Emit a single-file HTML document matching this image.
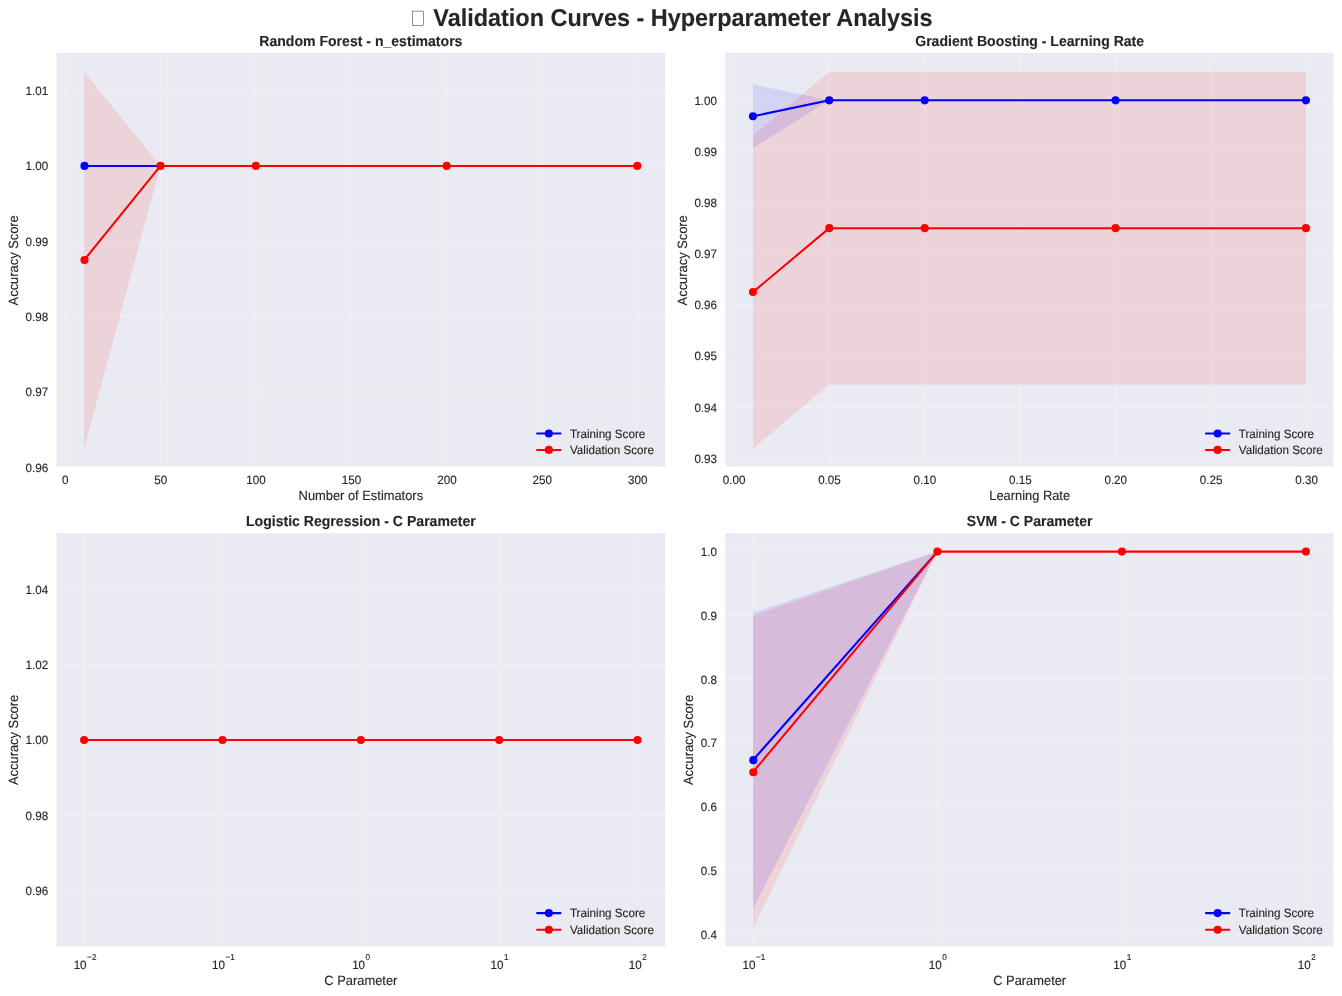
<!DOCTYPE html>
<html lang="en"><head><meta charset="utf-8"><title>Validation Curves - Hyperparameter Analysis</title>
<style>html,body{margin:0;padding:0;background:#fff;}body{width:1342px;height:996px;overflow:hidden;}svg{display:block;}text{font-family:"Liberation Sans", sans-serif;fill:#262626;text-rendering:geometricPrecision;stroke:#262626;stroke-width:0.12px;stroke-linejoin:round;}.tk{font-size:11.66px;}.lb{font-size:12.89px;}.tt{font-size:14.07px;font-weight:bold;}.st{font-size:23.44px;font-weight:bold;}.sup{font-size:8.21px;}.g{stroke:#fff;stroke-opacity:0.3;stroke-width:1.17;fill:none;}.ln{fill:none;stroke-width:2.05;stroke-linejoin:round;stroke-linecap:round;}</style></head><body>
<svg width="1342" height="996" viewBox="0 0 1342 996" role="img" aria-label="Validation Curves - Hyperparameter Analysis">
<rect width="1342" height="996" fill="#fff"/>
<rect x="412.4" y="11.1" width="11.1" height="14.2" fill="none" stroke="#262626" stroke-width="0.5"/>
<text class="st" transform="translate(433.3 26.3) scale(1 1.04)">Validation Curves - Hyperparameter Analysis</text>
<g>
<clipPath id="c0"><rect x="56.6" y="52.9" width="608.6" height="413.7"/></clipPath>
<rect x="56.6" y="52.9" width="608.6" height="413.7" fill="#eaeaf2"/>
<g clip-path="url(#c0)">
<path class="g" d="M65.05 52.86V467.34M160.46 52.86V467.34M255.88 52.86V467.34M351.3 52.86V467.34M446.72 52.86V467.34M542.13 52.86V467.34M637.55 52.86V467.34M56.46 467.34H665.22M56.46 391.98H665.22M56.46 316.62H665.22M56.46 241.26H665.22M56.46 165.9H665.22M56.46 90.54H665.22"/>
<polygon points="84.13,165.9 84.13,165.9 160.46,165.9 255.88,165.9 446.72,165.9 637.55,165.9 637.55,165.9 637.55,165.9 446.72,165.9 255.88,165.9 160.46,165.9 84.13,165.9" fill="#0000ff" fill-opacity="0.1"/>
<polygon points="84.13,71.7 84.13,448.5 160.46,165.9 255.88,165.9 446.72,165.9 637.55,165.9 637.55,165.9 637.55,165.9 446.72,165.9 255.88,165.9 160.46,165.9 84.13,71.7" fill="#ff0000" fill-opacity="0.1"/>
<polyline class="ln" stroke="#0000ff" points="84.13,165.9 160.46,165.9"/>
<circle cx="84.5" cy="165.9" r="4.05" fill="#0000ff"/>
<polyline class="ln" stroke="#ff0000" points="84.13,260.1 160.46,165.9 255.88,165.9 446.72,165.9 637.55,165.9"/>
<circle cx="84.5" cy="260.1" r="4.05" fill="#ff0000"/>
<circle cx="160.46" cy="165.9" r="4.05" fill="#ff0000"/>
<circle cx="255.88" cy="165.9" r="4.05" fill="#ff0000"/>
<circle cx="446.72" cy="165.9" r="4.05" fill="#ff0000"/>
<circle cx="637.3" cy="165.9" r="4.05" fill="#ff0000"/>
</g>
<line class="ln" x1="537.1" y1="433.55" x2="560.55" y2="433.55" stroke="#0000ff"/>
<circle cx="548.83" cy="433.55" r="4.05" fill="#0000ff"/>
<text class="tk" transform="translate(569.92 437.6) scale(1 1.04)">Training Score</text>
<line class="ln" x1="537.1" y1="449.9" x2="560.55" y2="449.9" stroke="#ff0000"/>
<circle cx="548.83" cy="449.9" r="4.05" fill="#ff0000"/>
<text class="tk" transform="translate(569.92 453.8) scale(1 1.04)">Validation Score</text>
<text class="tk" transform="translate(65.25 483.8) scale(1 1.04)" text-anchor="middle">0</text>
<text class="tk" transform="translate(160.66 483.8) scale(1 1.04)" text-anchor="middle">50</text>
<text class="tk" transform="translate(256.08 483.8) scale(1 1.04)" text-anchor="middle">100</text>
<text class="tk" transform="translate(351.5 483.8) scale(1 1.04)" text-anchor="middle">150</text>
<text class="tk" transform="translate(446.92 483.8) scale(1 1.04)" text-anchor="middle">200</text>
<text class="tk" transform="translate(542.33 483.8) scale(1 1.04)" text-anchor="middle">250</text>
<text class="tk" transform="translate(637.75 483.8) scale(1 1.04)" text-anchor="middle">300</text>
<text class="tk" transform="translate(48.25 471.84) scale(1 1.04)" text-anchor="end">0.96</text>
<text class="tk" transform="translate(48.25 396.48) scale(1 1.04)" text-anchor="end">0.97</text>
<text class="tk" transform="translate(48.25 321.12) scale(1 1.04)" text-anchor="end">0.98</text>
<text class="tk" transform="translate(48.25 245.76) scale(1 1.04)" text-anchor="end">0.99</text>
<text class="tk" transform="translate(48.25 170.4) scale(1 1.04)" text-anchor="end">1.00</text>
<text class="tk" transform="translate(48.25 95.04) scale(1 1.04)" text-anchor="end">1.01</text>
<text class="tt" transform="translate(360.84 45.58) scale(1 1.04)" text-anchor="middle">Random Forest - n_estimators</text>
<text class="lb" transform="translate(360.84 499.9) scale(1 1.04)" text-anchor="middle">Number of Estimators</text>
<text class="lb" transform="translate(18.1 260.3) rotate(-90) scale(1 1.04)" text-anchor="middle">Accuracy Score</text>
</g>
<g>
<clipPath id="c1"><rect x="725.28" y="52.9" width="608.02" height="413.7"/></clipPath>
<rect x="725.28" y="52.9" width="608.02" height="413.7" fill="#eaeaf2"/>
<g clip-path="url(#c1)">
<path class="g" d="M733.87 52.86V467.34M829.28 52.86V467.34M924.7 52.86V467.34M1020.12 52.86V467.34M1115.54 52.86V467.34M1210.95 52.86V467.34M1306.37 52.86V467.34M725.28 458.21H1334.04M725.28 407.09H1334.04M725.28 355.96H1334.04M725.28 304.84H1334.04M725.28 253.71H1334.04M725.28 202.58H1334.04M725.28 151.46H1334.04M725.28 100.33H1334.04"/>
<polygon points="752.95,84.35 752.95,148.26 829.28,100.33 924.7,100.33 1115.54,100.33 1306.37,100.33 1306.37,100.33 1306.37,100.33 1115.54,100.33 924.7,100.33 829.28,100.33 752.95,84.35" fill="#0000ff" fill-opacity="0.1"/>
<polygon points="752.95,135.61 752.95,448.5 829.28,384.59 924.7,384.59 1115.54,384.59 1306.37,384.59 1306.37,71.7 1306.37,71.7 1115.54,71.7 924.7,71.7 829.28,71.7 752.95,135.61" fill="#ff0000" fill-opacity="0.1"/>
<polyline class="ln" stroke="#0000ff" points="752.95,116.31 829.28,100.33 924.7,100.33 1115.54,100.33 1306.37,100.33"/>
<circle cx="752.95" cy="116.31" r="4.05" fill="#0000ff"/>
<circle cx="829.28" cy="100.33" r="4.05" fill="#0000ff"/>
<circle cx="924.7" cy="100.33" r="4.05" fill="#0000ff"/>
<circle cx="1115.54" cy="100.33" r="4.05" fill="#0000ff"/>
<circle cx="1305.94" cy="100.33" r="4.05" fill="#0000ff"/>
<polyline class="ln" stroke="#ff0000" points="752.95,292.05 829.28,228.15 924.7,228.15 1115.54,228.15 1306.37,228.15"/>
<circle cx="752.95" cy="292.05" r="4.05" fill="#ff0000"/>
<circle cx="829.28" cy="228.15" r="4.05" fill="#ff0000"/>
<circle cx="924.7" cy="228.15" r="4.05" fill="#ff0000"/>
<circle cx="1115.54" cy="228.15" r="4.05" fill="#ff0000"/>
<circle cx="1305.94" cy="228.15" r="4.05" fill="#ff0000"/>
</g>
<line class="ln" x1="1205.92" y1="433.55" x2="1229.36" y2="433.55" stroke="#0000ff"/>
<circle cx="1217.64" cy="433.55" r="4.05" fill="#0000ff"/>
<text class="tk" transform="translate(1238.74 437.6) scale(1 1.04)">Training Score</text>
<line class="ln" x1="1205.92" y1="449.9" x2="1229.36" y2="449.9" stroke="#ff0000"/>
<circle cx="1217.64" cy="449.9" r="4.05" fill="#ff0000"/>
<text class="tk" transform="translate(1238.74 453.8) scale(1 1.04)">Validation Score</text>
<text class="tk" transform="translate(734.07 483.8) scale(1 1.04)" text-anchor="middle">0.00</text>
<text class="tk" transform="translate(829.48 483.8) scale(1 1.04)" text-anchor="middle">0.05</text>
<text class="tk" transform="translate(924.9 483.8) scale(1 1.04)" text-anchor="middle">0.10</text>
<text class="tk" transform="translate(1020.32 483.8) scale(1 1.04)" text-anchor="middle">0.15</text>
<text class="tk" transform="translate(1115.74 483.8) scale(1 1.04)" text-anchor="middle">0.20</text>
<text class="tk" transform="translate(1211.15 483.8) scale(1 1.04)" text-anchor="middle">0.25</text>
<text class="tk" transform="translate(1306.57 483.8) scale(1 1.04)" text-anchor="middle">0.30</text>
<text class="tk" transform="translate(717.07 462.71) scale(1 1.04)" text-anchor="end">0.93</text>
<text class="tk" transform="translate(717.07 411.59) scale(1 1.04)" text-anchor="end">0.94</text>
<text class="tk" transform="translate(717.07 360.46) scale(1 1.04)" text-anchor="end">0.95</text>
<text class="tk" transform="translate(717.07 309.34) scale(1 1.04)" text-anchor="end">0.96</text>
<text class="tk" transform="translate(717.07 258.21) scale(1 1.04)" text-anchor="end">0.97</text>
<text class="tk" transform="translate(717.07 207.08) scale(1 1.04)" text-anchor="end">0.98</text>
<text class="tk" transform="translate(717.07 155.96) scale(1 1.04)" text-anchor="end">0.99</text>
<text class="tk" transform="translate(717.07 104.83) scale(1 1.04)" text-anchor="end">1.00</text>
<text class="tt" transform="translate(1029.66 45.58) scale(1 1.04)" text-anchor="middle">Gradient Boosting - Learning Rate</text>
<text class="lb" transform="translate(1029.66 499.9) scale(1 1.04)" text-anchor="middle">Learning Rate</text>
<text class="lb" transform="translate(686.9 260.3) rotate(-90) scale(1 1.04)" text-anchor="middle">Accuracy Score</text>
</g>
<g>
<clipPath id="c2"><rect x="56.6" y="533.1" width="608.6" height="413.3"/></clipPath>
<rect x="56.6" y="533.1" width="608.6" height="413.3" fill="#eaeaf2"/>
<g clip-path="url(#c2)">
<path class="g" d="M84.13 532.76V947.24M222.49 532.76V947.24M360.84 532.76V947.24M499.19 532.76V947.24M637.55 532.76V947.24M56.46 890.72H665.22M56.46 815.36H665.22M56.46 740H665.22M56.46 664.64H665.22M56.46 589.28H665.22"/>
<polygon points="84.13,740 84.13,740 222.49,740 360.84,740 499.19,740 637.55,740 637.55,740 637.55,740 499.19,740 360.84,740 222.49,740 84.13,740" fill="#0000ff" fill-opacity="0.1"/>
<polygon points="84.13,740 84.13,740 222.49,740 360.84,740 499.19,740 637.55,740 637.55,740 637.55,740 499.19,740 360.84,740 222.49,740 84.13,740" fill="#ff0000" fill-opacity="0.1"/>
<polyline class="ln" stroke="#ff0000" points="84.13,740 222.49,740 360.84,740 499.19,740 637.55,740"/>
<circle cx="84.13" cy="740" r="4.05" fill="#ff0000"/>
<circle cx="222.49" cy="740" r="4.05" fill="#ff0000"/>
<circle cx="360.84" cy="740" r="4.05" fill="#ff0000"/>
<circle cx="499.19" cy="740" r="4.05" fill="#ff0000"/>
<circle cx="637.55" cy="740" r="4.05" fill="#ff0000"/>
</g>
<line class="ln" x1="537.1" y1="913.1" x2="560.55" y2="913.1" stroke="#0000ff"/>
<circle cx="548.83" cy="913.1" r="4.05" fill="#0000ff"/>
<text class="tk" transform="translate(569.92 917.1) scale(1 1.04)">Training Score</text>
<line class="ln" x1="537.1" y1="929.8" x2="560.55" y2="929.8" stroke="#ff0000"/>
<circle cx="548.83" cy="929.8" r="4.05" fill="#ff0000"/>
<text class="tk" transform="translate(569.92 934) scale(1 1.04)">Validation Score</text>
<text class="tk" transform="translate(73.63 968.65) scale(1 1.04)">10<tspan class="sup" dx="0.5" dy="-8.37">−2</tspan></text>
<text class="tk" transform="translate(211.99 968.65) scale(1 1.04)">10<tspan class="sup" dx="0.5" dy="-8.37">−1</tspan></text>
<text class="tk" transform="translate(352.14 968.65) scale(1 1.04)">10<tspan class="sup" dx="0.5" dy="-8.37">0</tspan></text>
<text class="tk" transform="translate(490.49 968.65) scale(1 1.04)">10<tspan class="sup" dx="0.5" dy="-8.37">1</tspan></text>
<text class="tk" transform="translate(628.85 968.65) scale(1 1.04)">10<tspan class="sup" dx="0.5" dy="-8.37">2</tspan></text>
<text class="tk" transform="translate(48.25 895.22) scale(1 1.04)" text-anchor="end">0.96</text>
<text class="tk" transform="translate(48.25 819.86) scale(1 1.04)" text-anchor="end">0.98</text>
<text class="tk" transform="translate(48.25 743.8) scale(1 1.04)" text-anchor="end">1.00</text>
<text class="tk" transform="translate(48.25 669.14) scale(1 1.04)" text-anchor="end">1.02</text>
<text class="tk" transform="translate(48.25 593.78) scale(1 1.04)" text-anchor="end">1.04</text>
<text class="tt" transform="translate(360.84 526.1) scale(1 1.04)" text-anchor="middle">Logistic Regression - C Parameter</text>
<text class="lb" transform="translate(360.84 985.01) scale(1 1.04)" text-anchor="middle">C Parameter</text>
<text class="lb" transform="translate(18.1 739.9) rotate(-90) scale(1 1.04)" text-anchor="middle">Accuracy Score</text>
</g>
<g>
<clipPath id="c3"><rect x="725.28" y="533.1" width="608.02" height="413.3"/></clipPath>
<rect x="725.28" y="533.1" width="608.02" height="413.3" fill="#eaeaf2"/>
<g clip-path="url(#c3)">
<path class="g" d="M752.95 532.76V947.24M937.42 532.76V947.24M1121.9 532.76V947.24M1306.37 532.76V947.24M725.28 934.14H1334.04M725.28 870.38H1334.04M725.28 806.63H1334.04M725.28 742.87H1334.04M725.28 679.11H1334.04M725.28 615.36H1334.04M725.28 551.6H1334.04"/>
<polygon points="752.95,612.81 752.95,908.64 937.42,551.6 1121.9,551.6 1306.37,551.6 1306.37,551.6 1306.37,551.6 1121.9,551.6 937.42,551.6 752.95,612.81" fill="#0000ff" fill-opacity="0.1"/>
<polygon points="752.95,615.99 752.95,928.4 937.42,551.6 1121.9,551.6 1306.37,551.6 1306.37,551.6 1306.37,551.6 1121.9,551.6 937.42,551.6 752.95,615.99" fill="#ff0000" fill-opacity="0.1"/>
<polyline class="ln" stroke="#0000ff" points="752.95,760.15 937.42,551.6"/>
<circle cx="753.31" cy="760.15" r="4.05" fill="#0000ff"/>
<polyline class="ln" stroke="#ff0000" points="752.95,772.2 937.42,551.6 1121.9,551.6 1306.37,551.6"/>
<circle cx="753.31" cy="772.2" r="4.05" fill="#ff0000"/>
<circle cx="937.42" cy="551.6" r="4.05" fill="#ff0000"/>
<circle cx="1121.9" cy="551.6" r="4.05" fill="#ff0000"/>
<circle cx="1305.92" cy="551.6" r="4.05" fill="#ff0000"/>
</g>
<line class="ln" x1="1205.92" y1="913.1" x2="1229.36" y2="913.1" stroke="#0000ff"/>
<circle cx="1217.64" cy="913.1" r="4.05" fill="#0000ff"/>
<text class="tk" transform="translate(1238.74 917.1) scale(1 1.04)">Training Score</text>
<line class="ln" x1="1205.92" y1="929.8" x2="1229.36" y2="929.8" stroke="#ff0000"/>
<circle cx="1217.64" cy="929.8" r="4.05" fill="#ff0000"/>
<text class="tk" transform="translate(1238.74 934) scale(1 1.04)">Validation Score</text>
<text class="tk" transform="translate(742.45 968.65) scale(1 1.04)">10<tspan class="sup" dx="0.5" dy="-8.37">−1</tspan></text>
<text class="tk" transform="translate(928.72 968.65) scale(1 1.04)">10<tspan class="sup" dx="0.5" dy="-8.37">0</tspan></text>
<text class="tk" transform="translate(1113.2 968.65) scale(1 1.04)">10<tspan class="sup" dx="0.5" dy="-8.37">1</tspan></text>
<text class="tk" transform="translate(1297.67 968.65) scale(1 1.04)">10<tspan class="sup" dx="0.5" dy="-8.37">2</tspan></text>
<text class="tk" transform="translate(717.07 938.74) scale(1 1.04)" text-anchor="end">0.4</text>
<text class="tk" transform="translate(717.07 874.98) scale(1 1.04)" text-anchor="end">0.5</text>
<text class="tk" transform="translate(717.07 811.23) scale(1 1.04)" text-anchor="end">0.6</text>
<text class="tk" transform="translate(717.07 747.47) scale(1 1.04)" text-anchor="end">0.7</text>
<text class="tk" transform="translate(717.07 683.71) scale(1 1.04)" text-anchor="end">0.8</text>
<text class="tk" transform="translate(717.07 619.96) scale(1 1.04)" text-anchor="end">0.9</text>
<text class="tk" transform="translate(717.07 556.2) scale(1 1.04)" text-anchor="end">1.0</text>
<text class="tt" transform="translate(1029.66 526.1) scale(1 1.04)" text-anchor="middle">SVM - C Parameter</text>
<text class="lb" transform="translate(1029.66 985.01) scale(1 1.04)" text-anchor="middle">C Parameter</text>
<text class="lb" transform="translate(692.6 739.9) rotate(-90) scale(1 1.04)" text-anchor="middle">Accuracy Score</text>
</g>
</svg></body></html>
